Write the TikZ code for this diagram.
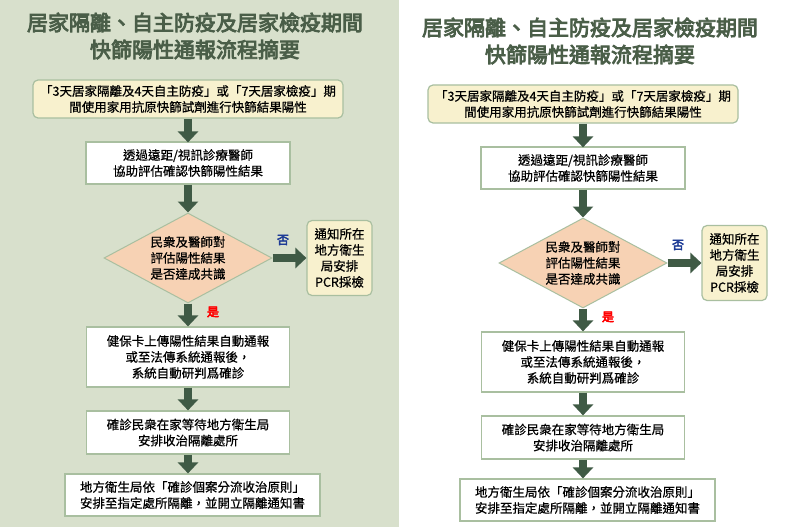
\documentclass[tikz,border=0pt]{standalone}
\usepackage{fontspec}
\newfontfamily\cjk{Noto Sans CJK TC}[FakeBold=0.6]
\newfontfamily\cjkb{Noto Sans CJK TC}[FakeBold=4]
\usetikzlibrary{shapes.geometric,arrows.meta}
\definecolor{bgg}{HTML}{D8E0CC}
\definecolor{dgreen}{HTML}{3F5A45}
\definecolor{tgreen}{HTML}{4A5E48}
\definecolor{cream}{HTML}{F8F1CE}
\definecolor{peach}{HTML}{F7D2B4}
\definecolor{bord}{HTML}{A9BFA0}
\tikzset{
 box/.style={draw=bord,line width=1.2pt,fill=white,align=center,font=\cjk\fontsize{12.5}{16}\selectfont,inner sep=0pt},
 cbox/.style={box,fill=cream,rounded corners=5pt},
 dia/.style={diamond,draw=bord,fill=peach,line width=1pt,align=center,font=\cjk\fontsize{12.5}{16}\selectfont,minimum width=168pt,minimum height=90pt,aspect=1.9,inner sep=0pt},
 flow/.style={draw=dgreen,line width=8pt,-{Triangle[width=20pt,length=11pt]}},
 ttl/.style={text=tgreen,font=\cjkb\fontsize{21}{27}\selectfont,align=center}
}
\newcommand\panel[3]{%
\begin{scope}[shift={(#2,#3)}]
\node[ttl] (#1t) at (195,36) {居家隔離、自主防疫及居家檢疫期間\\快篩陽性通報流程摘要};
\node[cbox,minimum width=310pt,minimum height=38pt] (#1a) at (188,99) {「3天居家隔離及4天自主防疫」或「7天居家檢疫」期\\間使用家用抗原快篩試劑進行快篩結果陽性};
\node[box,minimum width=204pt,minimum height=42pt] (#1b) at (188,163) {透過遠距/視訊診療醫師\\協助評估確認快篩陽性結果};
\node[dia] (#1d) at (188,258) {民衆及醫師對\\評估陽性結果\\是否達成共識};
\node[cbox,minimum width=65pt,minimum height=75pt] (#1s) at (339.5,258) {通知所在\\地方衛生\\局安排\\PCR採檢};
\node[box,minimum width=203pt,minimum height=60pt] (#1c) at (188,357) {健保卡上傳陽性結果自動通報\\或至法傳系統通報後，\\系統自動研判爲確診};
\node[box,minimum width=203pt,minimum height=43pt] (#1e) at (188,432.5) {確診民衆在家等待地方衛生局\\安排收治隔離處所};
\node[box,minimum width=255pt,minimum height=42pt] (#1f) at (192.5,495) {地方衛生局依「確診個案分流收治原則」\\安排至指定處所隔離，並開立隔離通知書};
\draw[flow] (#1a.south) -- ([yshift=-1pt]#1b.north);
\draw[flow] (#1b.south) -- (#1d.north);
\draw[flow] (#1d.east) -- (#1s.west);
\draw[flow] (#1d.south) -- (#1c.north);
\draw[flow] (#1c.south) -- (#1e.north);
\draw[flow] (#1e.south) -- (#1e.south|-#1f.north);
\node[text={rgb,255:red,30;green,60;blue,150},font=\cjkb\fontsize{12}{14}\selectfont] (#1no) at (283,240) {否};
\node[text=red,font=\cjkb\fontsize{12}{14}\selectfont] (#1yes) at (213,312) {是};
\end{scope}}
\begin{document}
\begin{tikzpicture}[x=1pt,y=-1pt]
\useasboundingbox (0,0) rectangle (790,527);
\fill[white] (0,0) rectangle (790,527);
\fill[bgg] (0,0) rectangle (399,527);
\panel{L}{0}{0}
\panel{R}{395}{5}
\end{tikzpicture}
\end{document}
